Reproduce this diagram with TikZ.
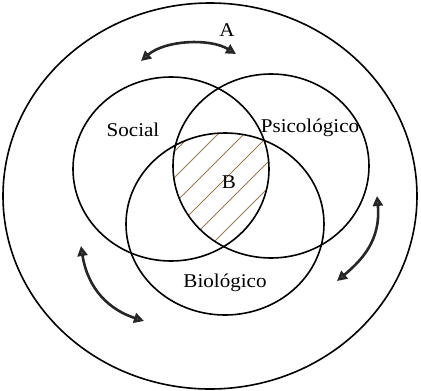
\documentclass[tikz,border=0pt]{standalone}
\usepackage{fontspec}
\setmainfont{Liberation Serif}[FakeStretch=1.08]
\usetikzlibrary{arrows.meta}
\begin{document}
\begin{tikzpicture}[x=1pt,y=-1pt,
  ring/.style={line width=1.6pt,black},
  twoway/.style={line width=2.6pt,black!85,{Triangle[width=10pt,length=10pt,fill=black!65]}-{Triangle[width=10pt,length=10pt,fill=black!65]}},
  hatchline/.style={line width=0.8pt,color={rgb,255:red,150;green,125;blue,90}},
  lbl/.style={font=\fontsize{19.5}{22}\selectfont,inner sep=0pt}]
\useasboundingbox (0,0) rectangle (421,391);
% outer ellipse
\draw[ring] (210,196) ellipse [x radius=207pt, y radius=193pt];
% hatch of triple intersection
\begin{scope}
  \clip (171,169) ellipse [x radius=98pt, y radius=92pt];
  \clip (271,166) ellipse [x radius=98pt, y radius=92pt];
  \clip (225,224) ellipse [x radius=99pt, y radius=91pt];
  \foreach \k in {-5,...,7} {
    \draw[hatchline] (130+26*\k,300) -- (330+26*\k,100);
  }
\end{scope}
% three circles
\draw[ring] (171,169) ellipse [x radius=98pt, y radius=92pt];
\draw[ring] (271,166) ellipse [x radius=98pt, y radius=92pt];
\draw[ring] (225,224) ellipse [x radius=99pt, y radius=91pt];
% labels
\node[lbl] (a) at (227,30) {A};
\node[lbl] (social) at (133,130) {Social};
\node[lbl] (psico) at (310,128) {Psicológico};
\node[lbl] (b) at (229,182) {B};
\node[lbl] (bio) at (225,283) {Biológico};
% arrows
\coordinate (t1) at (141,61);
\coordinate (t2) at (236,54);
\coordinate (r1) at (377,196);
\coordinate (r2) at (337,281);
\coordinate (l1) at (81,246);
\coordinate (l2) at (144,321);
\draw[twoway] (t1) .. controls (165,40) and (210,38) .. (t2);
\draw[twoway] (r1) .. controls (381,240) and (362,260) .. (r2);
\draw[twoway] (l1) .. controls (88,290) and (110,310) .. (l2);
\end{tikzpicture}
\end{document}
